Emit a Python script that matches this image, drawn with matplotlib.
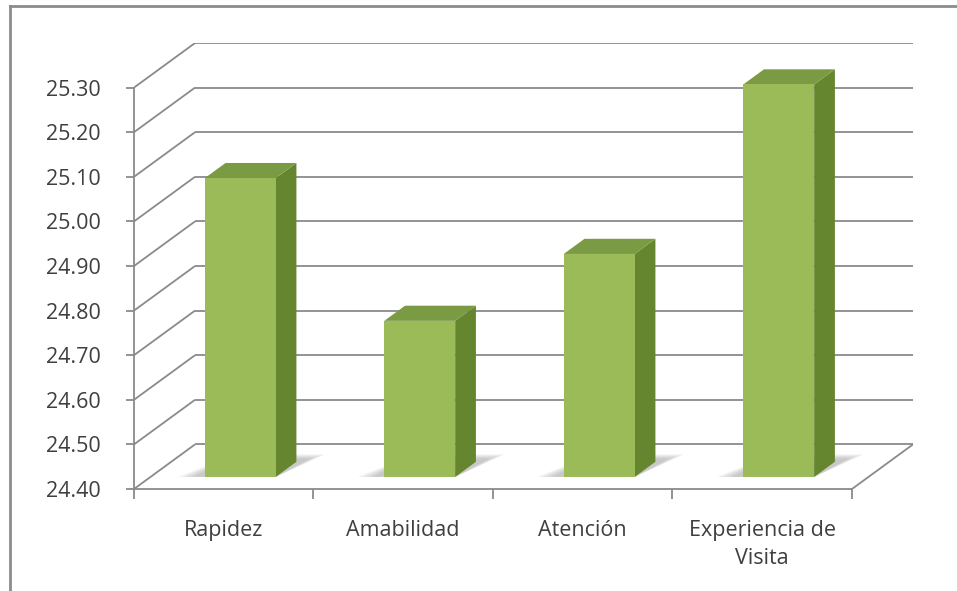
import matplotlib
matplotlib.use("Agg")
import matplotlib.pyplot as plt
from matplotlib.patches import Polygon
from matplotlib.lines import Line2D

# Average score per service dimension
categories = ["Rapidez", "Amabilidad", "Atención", "Experiencia de\nVisita"]
values = [25.07, 24.75, 24.90, 25.28]
y_ticks = [24.40, 24.50, 24.60, 24.70, 24.80, 24.90, 25.00, 25.10, 25.20, 25.30]

BASE = y_ticks[0]
TOP = y_ticks[-1]
STEP = 0.1

# oblique projection of the depth axis (depth runs 0 -> 1, front -> back wall)
DX = 0.34          # horizontal shift in category units
DY = STEP          # vertical shift in value units
BAR_W = 0.395
D_FRONT, D_BACK = 0.27, 0.61

GRID = "#8a8a8a"
TEXT = "#3f3f3f"
FRONT = "#9bbb59"
SIDE = "#66852f"
TOPC = "#7b9a44"

plt.rcParams["font.family"] = ["Open Sans", "DejaVu Sans"]

fig = plt.figure(figsize=(9.57, 5.91), dpi=100)
ax = fig.add_axes([134 / 957, 102 / 591, (913 - 134) / 957, (489 - 43) / 591])
n = len(categories)
x0, x1 = -0.5, n - 0.5
ax.set_xlim(x0, x1 + DX)
ax.set_ylim(BASE, TOP + DY)
ax.patch.set_visible(False)


def proj(x, v, d):
    return x + d * DX, v + d * DY


# left wall diagonals and back wall gridlines
for v in y_ticks:
    bx, by = proj(x0, v, 1)
    ax.plot([x0, bx], [v, by], color=GRID, lw=1.3, zorder=1, solid_capstyle="butt")
    ax.plot([bx, x1 + DX], [by, by], color=GRID, lw=1.3, zorder=1, solid_capstyle="butt")

# floor right edge
ax.plot([x1, x1 + DX], [BASE, BASE + DY], color=GRID, lw=1.3, zorder=1)

# bars drawn as prisms
for i, v in enumerate(values):
    l, r = i - BAR_W / 2, i + BAR_W / 2
    # soft floor shadow, stacked layers shrinking toward the bar
    for k in range(6):
        g = (5 - k) * 0.018
        pts = [proj(l - 0.06 - g, BASE, D_FRONT),
               proj(r, BASE, D_FRONT),
               proj(r + 0.05 + g * 0.6, BASE, 0.78 - k * 0.02),
               proj(l, BASE, 0.78 - k * 0.02)]
        ax.add_patch(Polygon(pts, closed=True, fc="#6f6f6f", ec="none",
                             alpha=0.07, zorder=2))

    front = [proj(l, BASE, D_FRONT), proj(r, BASE, D_FRONT),
             proj(r, v, D_FRONT), proj(l, v, D_FRONT)]
    side = [proj(r, BASE, D_FRONT), proj(r, BASE, D_BACK),
            proj(r, v, D_BACK), proj(r, v, D_FRONT)]
    top = [proj(l, v, D_FRONT), proj(r, v, D_FRONT),
           proj(r, v, D_BACK), proj(l, v, D_BACK)]
    ax.add_patch(Polygon(side, closed=True, fc=SIDE, ec="none", zorder=3))
    ax.add_patch(Polygon(top, closed=True, fc=TOPC, ec="none", zorder=3))
    ax.add_patch(Polygon(front, closed=True, fc=FRONT, ec="none", zorder=4))

# axes: front vertical axis and floor front edge
for s in ("top", "right"):
    ax.spines[s].set_visible(False)
ax.spines["left"].set_bounds(BASE, TOP)
ax.spines["bottom"].set_bounds(x0, x1)
for s in ("left", "bottom"):
    ax.spines[s].set_color(GRID)
    ax.spines[s].set_linewidth(1.3)
    ax.spines[s].set_zorder(5)

ax.set_yticks(y_ticks)
ax.set_yticklabels([f"{t:.2f}" for t in y_ticks])
ax.tick_params(axis="y", direction="out", length=6, width=1.3, color=GRID,
               labelsize=15.5, labelcolor=TEXT, pad=18)

ax.set_xticks(range(n))
ax.set_xticklabels(categories, linespacing=1.45)
ax.set_xticks([x0 + k for k in range(n + 1)], minor=True)
ax.tick_params(axis="x", which="major", length=0, labelsize=15.5,
               labelcolor=TEXT, pad=22)
ax.tick_params(axis="x", which="minor", direction="out", length=7,
               width=1.3, color=GRID)

# chart frame (top and left edges)
fig.add_artist(Line2D([10 / 957, 10 / 957], [0, 1 - 6 / 591],
                      transform=fig.transFigure, color="#8c8c8c", lw=2))
fig.add_artist(Line2D([10 / 957, 1], [1 - 6 / 591, 1 - 6 / 591],
                      transform=fig.transFigure, color="#8c8c8c", lw=2))

fig.savefig("out.png", dpi=100)
